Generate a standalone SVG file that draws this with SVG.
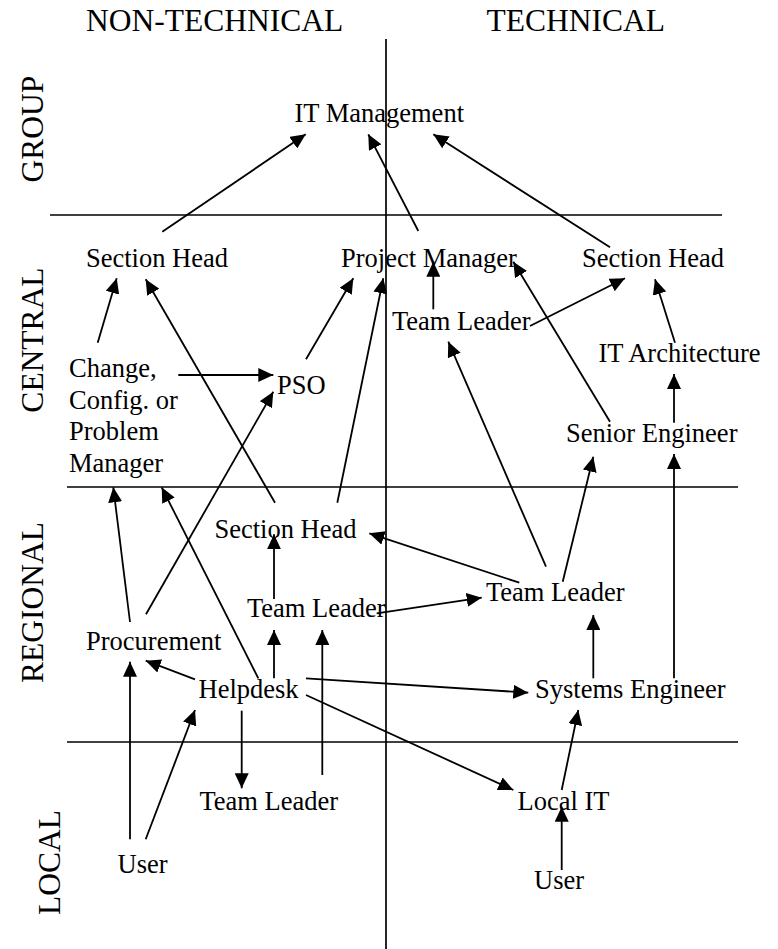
<svg xmlns="http://www.w3.org/2000/svg" width="778" height="949" viewBox="0 0 778 949">
<style>
text{font-family:"Liberation Serif","Times New Roman",serif;fill:#000}
.h{font-size:31.5px}
.n{font-size:26.5px}
.div{stroke:#000;stroke-width:1.7;fill:none}
.a{stroke:#000;stroke-width:1.8;fill:none;marker-end:url(#ah)}
</style>
<defs>
<marker id="ah" markerUnits="userSpaceOnUse" markerWidth="16" markerHeight="14" refX="15" refY="7" orient="auto">
<path d="M0,0 L15,7 L0,14 z" fill="#000"/>
</marker>
</defs>
<rect width="778" height="949" fill="#fff"/>
<g id="grid">
<line class="div" x1="386" y1="39" x2="386" y2="949"/>
<line class="div" x1="50" y1="215" x2="722" y2="215"/>
<line class="div" x1="67" y1="487" x2="738" y2="487"/>
<line class="div" x1="67" y1="742" x2="738" y2="742"/>
</g>
<g id="headers">
<text class="h" x="86" y="31">NON-TECHNICAL</text>
<text class="h" x="486.5" y="31">TECHNICAL</text>
<text class="h" text-anchor="middle" transform="translate(43,129) rotate(-90)">GROUP</text>
<text class="h" text-anchor="middle" transform="translate(43,340) rotate(-90)">CENTRAL</text>
<text class="h" text-anchor="middle" transform="translate(43,602.5) rotate(-90)">REGIONAL</text>
<text class="h" text-anchor="middle" transform="translate(60,862.5) rotate(-90)">LOCAL</text>
</g>
<g id="connectors">
<line class="a" x1="162.3" y1="231.7" x2="305.7" y2="134.3"/>
<line class="a" x1="418.3" y1="231" x2="368.3" y2="134.3"/>
<line class="a" x1="610" y1="247.3" x2="433.3" y2="134.3"/>
<line class="a" x1="97.7" y1="342.7" x2="116.7" y2="278.3"/>
<line class="a" x1="275" y1="502.7" x2="145.7" y2="279.3"/>
<line class="a" x1="306" y1="359.3" x2="353.3" y2="278.3"/>
<line class="a" x1="337.3" y1="502.7" x2="383.3" y2="278.3"/>
<line class="a" x1="433.3" y1="309.3" x2="433.3" y2="261.7"/>
<line class="a" x1="610" y1="421.7" x2="513.3" y2="261.7"/>
<line class="a" x1="530" y1="326" x2="625" y2="278.3"/>
<line class="a" x1="675" y1="342.7" x2="655" y2="279.3"/>
<line class="a" x1="178.3" y1="375" x2="273.3" y2="375"/>
<line class="a" x1="146" y1="614.3" x2="273.3" y2="391.7"/>
<line class="a" x1="130" y1="622" x2="113.3" y2="487.3"/>
<line class="a" x1="258.3" y1="678.3" x2="161.7" y2="487.3"/>
<line class="a" x1="274" y1="599" x2="274" y2="534.3"/>
<line class="a" x1="376.7" y1="613.3" x2="481.7" y2="597.7"/>
<line class="a" x1="519.3" y1="582.7" x2="369.3" y2="533.3"/>
<line class="a" x1="674" y1="422.7" x2="674" y2="374"/>
<line class="a" x1="546" y1="566.7" x2="448.3" y2="341.7"/>
<line class="a" x1="562.7" y1="581.7" x2="593.3" y2="456.7"/>
<line class="a" x1="674" y1="678.3" x2="674" y2="454"/>
<line class="a" x1="593.3" y1="678.3" x2="593.3" y2="615"/>
<line class="a" x1="130" y1="839.3" x2="130" y2="661.7"/>
<line class="a" x1="195" y1="679.3" x2="145.7" y2="660.7"/>
<line class="a" x1="274" y1="678.3" x2="274" y2="630"/>
<line class="a" x1="322.3" y1="775" x2="322.3" y2="630"/>
<line class="a" x1="241.7" y1="710.7" x2="241.7" y2="788.3"/>
<line class="a" x1="145.7" y1="839.3" x2="195" y2="710"/>
<line class="a" x1="306" y1="678.3" x2="528.3" y2="692.7"/>
<line class="a" x1="306" y1="695" x2="513.3" y2="790"/>
<line class="a" x1="561.7" y1="790" x2="578.3" y2="710"/>
<line class="a" x1="561.7" y1="870" x2="561.7" y2="806.7"/>
</g>
<g id="n_it_management"><text class="n" x="294.5" y="122">IT Management</text></g>
<g id="n_section_head_c1"><text class="n" x="86" y="267">Section Head</text></g>
<g id="n_project_manager"><text class="n" x="341" y="267">Project Manager</text></g>
<g id="n_section_head_c2"><text class="n" x="582" y="267">Section Head</text></g>
<g id="n_team_leader_c"><text class="n" x="392" y="329.5">Team Leader</text></g>
<g id="n_it_architecture"><text class="n" x="598.5" y="362">IT Architecture</text></g>
<g id="n_change_manager"><text class="n" x="69" y="377">Change,</text><text class="n" x="69" y="408.5">Config. or</text><text class="n" x="69" y="440">Problem</text><text class="n" x="69" y="471.5">Manager</text></g>
<g id="n_pso"><text class="n" x="277" y="394">PSO</text></g>
<g id="n_senior_engineer"><text class="n" x="566" y="442">Senior Engineer</text></g>
<g id="n_section_head_r"><text class="n" x="214.5" y="537.5">Section Head</text></g>
<g id="n_team_leader_r1"><text class="n" x="247" y="617">Team Leader</text></g>
<g id="n_team_leader_r2"><text class="n" x="486" y="601">Team Leader</text></g>
<g id="n_procurement"><text class="n" x="86" y="649.5">Procurement</text></g>
<g id="n_helpdesk"><text class="n" x="198.5" y="697.5">Helpdesk</text></g>
<g id="n_systems_engineer"><text class="n" x="535" y="697.5">Systems Engineer</text></g>
<g id="n_team_leader_l"><text class="n" x="199.5" y="809.5">Team Leader</text></g>
<g id="n_local_it"><text class="n" x="517.5" y="810">Local IT</text></g>
<g id="n_user_1"><text class="n" x="117.5" y="872.5">User</text></g>
<g id="n_user_2"><text class="n" x="534" y="888.5">User</text></g>
</svg>
